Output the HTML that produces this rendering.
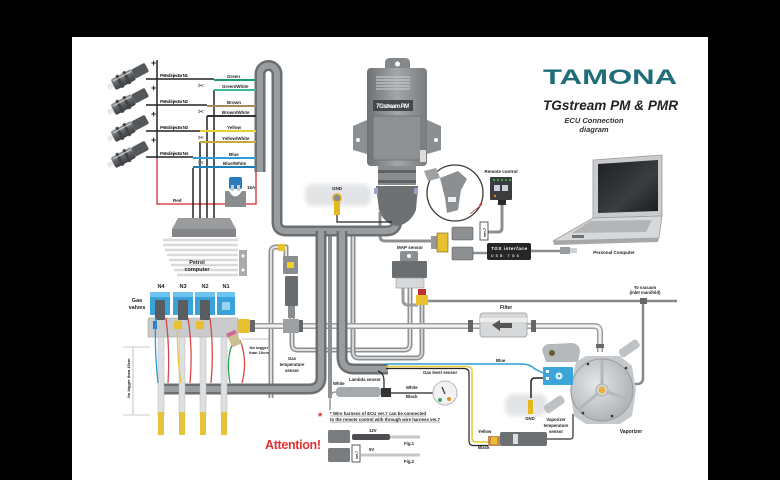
<!DOCTYPE html>
<html><head><meta charset="utf-8"><style>
html,body{margin:0;padding:0;background:#000;}
svg{display:block}
text{font-family:"Liberation Sans",sans-serif;font-weight:bold;fill:#222;}
</style></head><body>
<svg width="780" height="480" viewBox="0 0 780 480" xmlns="http://www.w3.org/2000/svg">
<defs>
<linearGradient id="ecu" x1="0" x2="1" y1="0" y2="0">
<stop offset="0" stop-color="#6e7174"/><stop offset="0.5" stop-color="#a4a7aa"/><stop offset="1" stop-color="#7a7d80"/>
</linearGradient>
<linearGradient id="scr" x1="0" x2="1" y1="0" y2="1">
<stop offset="0" stop-color="#1e2023"/><stop offset="0.6" stop-color="#3a3d41"/><stop offset="1" stop-color="#1a1c1e"/>
</linearGradient>
<linearGradient id="inj" x1="0" x2="0" y1="0" y2="1">
<stop offset="0" stop-color="#9a9da0"/><stop offset="0.5" stop-color="#5d6063"/><stop offset="1" stop-color="#3e4043"/>
</linearGradient>
<radialGradient id="vap" cx="0.4" cy="0.4" r="0.7">
<stop offset="0" stop-color="#e4e6e8"/><stop offset="1" stop-color="#a9acaf"/>
</radialGradient>
<filter id="bl"><feGaussianBlur stdDeviation="2"/></filter>
</defs>
<rect width="780" height="480" fill="#000"/>
<rect x="72" y="37" width="636" height="443" fill="#fff"/>

<!-- clouds -->
<rect x="305" y="184" width="66" height="22" rx="8" fill="#e2e4e6" filter="url(#bl)"/>
<rect x="505" y="394" width="42" height="22" rx="8" fill="#e2e4e6" filter="url(#bl)"/>

<!-- thin gas pipes (double line) -->
<g fill="none" stroke-linejoin="round">
<path d="M271,398 V252 Q271,247 276,247 H286 V256" stroke="#8d9093" stroke-width="5"/>
<path d="M271,398 V252 Q271,247 276,247 H286 V256" stroke="#e0e0e0" stroke-width="2"/>
<path d="M292,312 V344 Q292,350 298,350 H404 Q410,350 410,344 V283" stroke="#8d9093" stroke-width="5"/>
<path d="M292,312 V344 Q292,350 298,350 H404 Q410,350 410,344 V283" stroke="#e0e0e0" stroke-width="2"/>
<path d="M353,231 V352 Q353,358 359,358 H416 Q422,358 422,352 V304" stroke="#8d9093" stroke-width="5"/>
<path d="M353,231 V352 Q353,358 359,358 H416 Q422,358 422,352 V304" stroke="#cfd1d3" stroke-width="2"/>
<path d="M403,283 V300 Q403,305 408,305 H418" stroke="#9a9da0" stroke-width="3"/>
<path d="M238,326 H480 M527,326 H594 Q600,326 600,332 V352" stroke="#9b9ea1" stroke-width="6"/>
<path d="M238,326 H480 M527,326 H594 Q600,326 600,332 V352" stroke="#f2f2f2" stroke-width="3"/>
<path d="M422,301 H677 M643,301 V378 Q643,384 637,384 H628" stroke="#86898c" stroke-width="2.5"/>
<path d="M330,231 V398" stroke="#8d9093" stroke-width="4"/>
<path d="M380,212 V236 Q380,241 385,241 H432" stroke="#8d9093" stroke-width="3"/>
<path d="M502,202 V228 Q502,232 498,232 H488" stroke="#8d9093" stroke-width="3"/>
<path d="M473,253 H487 M531,251 H560" stroke="#8d9093" stroke-width="2.5"/>
</g>
<!-- gas pipe clamps -->
<g fill="#666">
<rect x="250" y="320" width="5" height="12"/><rect x="283" y="320" width="5" height="12"/><rect x="298" y="320" width="5" height="12"/>
<rect x="468" y="320" width="5" height="12"/><rect x="531" y="320" width="5" height="12"/><rect x="596" y="344" width="8" height="4"/>
<rect x="640" y="298" width="7" height="6"/>
</g>

<!-- thick pipes -->
<g fill="none" stroke-linejoin="round">
<path d="M260,172 V74 A8.5,8.5 0 0 1 277,74 V222 Q277,231 286,231 H386 Q397,231 397,220 V212" stroke="#6c6f72" stroke-width="11"/>
<path d="M260,172 V74 A8.5,8.5 0 0 1 277,74 V222 Q277,231 286,231 H386 Q397,231 397,220 V212" stroke="#9a9da0" stroke-width="6"/>
<path d="M321,231 V377 Q321,389 309,389 H163" stroke="#6c6f72" stroke-width="11"/>
<path d="M321,231 V377 Q321,389 309,389 H163" stroke="#9a9da0" stroke-width="6"/>
<path d="M342,231 V357 Q342,369 354,369 H388" stroke="#6c6f72" stroke-width="11"/>
<path d="M342,231 V357 Q342,369 354,369 H388" stroke="#9a9da0" stroke-width="6"/>
</g>

<!-- petrol injectors -->
<g>
<g transform="translate(130,76) rotate(-28)"><rect x="-25" y="-2.5" width="7" height="5" fill="#e6e8ea"/><rect x="-19" y="-6" width="23" height="12" rx="2" fill="url(#inj)"/><rect x="-13" y="-7" width="3" height="14" fill="#444"/><rect x="-5" y="-7" width="3" height="14" fill="#444"/><rect x="4" y="-5" width="15" height="10" rx="1.5" fill="#55585b"/><line x1="-17" y1="-3.5" x2="3" y2="-3.5" stroke="#d6d9dc"/></g>
<g transform="translate(130,101) rotate(-28)"><rect x="-25" y="-2.5" width="7" height="5" fill="#e6e8ea"/><rect x="-19" y="-6" width="23" height="12" rx="2" fill="url(#inj)"/><rect x="-13" y="-7" width="3" height="14" fill="#444"/><rect x="-5" y="-7" width="3" height="14" fill="#444"/><rect x="4" y="-5" width="15" height="10" rx="1.5" fill="#55585b"/><line x1="-17" y1="-3.5" x2="3" y2="-3.5" stroke="#d6d9dc"/></g>
<g transform="translate(130,128) rotate(-28)"><rect x="-25" y="-2.5" width="7" height="5" fill="#e6e8ea"/><rect x="-19" y="-6" width="23" height="12" rx="2" fill="url(#inj)"/><rect x="-13" y="-7" width="3" height="14" fill="#444"/><rect x="-5" y="-7" width="3" height="14" fill="#444"/><rect x="4" y="-5" width="15" height="10" rx="1.5" fill="#55585b"/><line x1="-17" y1="-3.5" x2="3" y2="-3.5" stroke="#d6d9dc"/></g>
<g transform="translate(130,154) rotate(-28)"><rect x="-25" y="-2.5" width="7" height="5" fill="#e6e8ea"/><rect x="-19" y="-6" width="23" height="12" rx="2" fill="url(#inj)"/><rect x="-13" y="-7" width="3" height="14" fill="#444"/><rect x="-5" y="-7" width="3" height="14" fill="#444"/><rect x="4" y="-5" width="15" height="10" rx="1.5" fill="#55585b"/><line x1="-17" y1="-3.5" x2="3" y2="-3.5" stroke="#d6d9dc"/></g>
</g>
<g font-size="9"><text x="151" y="66">+</text><text x="151" y="91">+</text><text x="151" y="117">+</text><text x="151" y="143">+</text></g>

<!-- wiring -->
<g fill="none" stroke-width="1.5">
<path d="M157,60 V158" stroke="#222"/>
<path d="M157,158 V204 H256 V172" stroke="#d84848"/>
<path d="M146,79 H214 M146,105 H207 M146,131 H200 M146,157 H193" stroke="#222"/>
<path d="M214,90 V222 M207,116 V222 M200,142 V222 M193,168 V222" stroke="#222"/>
<path d="M214,80 H256" stroke="#1f9a6c" stroke-width="2"/>
<path d="M214,90 H256" stroke="#3bb89a" stroke-width="2"/>
<path d="M207,106 H256" stroke="#a88860" stroke-width="2"/>
<path d="M207,116 H256" stroke="#333" stroke-width="2"/>
<path d="M200,131 H256" stroke="#e8d030" stroke-width="2"/>
<path d="M200,142 H256" stroke="#c8a838" stroke-width="2"/>
<path d="M193,158 H256" stroke="#2aa0d6" stroke-width="2"/>
<path d="M193,167 H256" stroke="#1a80b8" stroke-width="2"/>
</g>
<g font-size="7" style="font-family:'DejaVu Sans',sans-serif"><text x="198" y="88" style="fill:#777">✂</text><text x="198" y="114" style="fill:#777">✂</text><text x="198" y="140" style="fill:#777">✂</text><text x="198" y="165" style="fill:#777">✂</text></g>
<g font-size="4.5">
<text x="160" y="77" textLength="28">Petrol injector N1</text>
<text x="160" y="103" textLength="28">Petrol injector N2</text>
<text x="160" y="129" textLength="28">Petrol injector N3</text>
<text x="160" y="155" textLength="28">Petrol injector N4</text>
<text x="227" y="78">Green</text><text x="222" y="88">Green/White</text>
<text x="227" y="104">Brown</text><text x="222" y="114">Brown/White</text>
<text x="227" y="129">Yellow</text><text x="222" y="140">Yellow/White</text>
<text x="229" y="156">Blue</text><text x="223" y="165">Blue/White</text>
<text x="173" y="202">Red</text><text x="247" y="189">15A</text>
</g>
<!-- fuse -->
<rect x="229" y="177" width="13" height="12" rx="2" fill="#2a7ac0"/>
<rect x="231" y="185" width="3" height="6" fill="#ccc"/><rect x="237" y="185" width="3" height="6" fill="#ccc"/>
<path d="M225,191 H246 V207 H225 Z" fill="#8a8d90"/>
<path d="M229,191 Q235,202 242,191" fill="#fff"/>

<!-- petrol computer -->
<g>
<g stroke="#d8d9da" stroke-width="2.5">
<line x1="163" y1="240" x2="238" y2="240"/><line x1="163" y1="245" x2="238" y2="245"/><line x1="165" y1="250" x2="238" y2="250"/><line x1="167" y1="255" x2="238" y2="255"/><line x1="169" y1="260" x2="238" y2="260"/><line x1="171" y1="265" x2="238" y2="265"/><line x1="174" y1="270" x2="238" y2="270"/><line x1="177" y1="275" x2="238" y2="275"/>
</g>
<polygon points="178,218 230,218 236,229 172,229" fill="#9a9c9e"/>
<rect x="172" y="229" width="64" height="8" fill="#838588"/>
<rect x="239" y="250" width="8" height="26" fill="#a9abad"/>
<circle cx="243" cy="256" r="1.5" fill="#fff"/><circle cx="243" cy="270" r="1.5" fill="#fff"/>
<text x="197" y="264" font-size="5.5" text-anchor="middle">Petrol</text>
<text x="197" y="271" font-size="5.5" text-anchor="middle">computer</text>
</g>

<!-- ECU -->
<g>
<path d="M385,72 V63 Q385,58 390,58 H405 Q410,58 410,63 V72 Z" fill="#85888b"/>
<circle cx="397.5" cy="64" r="2.5" fill="#fff"/>
<polygon points="353,126 367,120 367,154 353,150" fill="#8c8f92"/>
<polygon points="441,126 427,120 427,154 441,150" fill="#8c8f92"/>
<circle cx="358" cy="140" r="2" fill="#fff"/><circle cx="436" cy="140" r="2" fill="#fff"/>
<rect x="367" y="68" width="60" height="98" rx="4" fill="url(#ecu)"/>
<g stroke="#c3c6c9" stroke-width="1.3"><line x1="376" y1="77" x2="410" y2="77"/><line x1="376" y1="80" x2="410" y2="80"/><line x1="376" y1="83" x2="410" y2="83"/><line x1="376" y1="86" x2="410" y2="86"/><line x1="376" y1="89" x2="410" y2="89"/></g>
<rect x="373" y="100" width="40" height="11" fill="#45484b"/>
<text x="376" y="108" font-size="6" font-style="italic" style="fill:#fff" textLength="33">TGstream PM</text>
<rect x="373" y="116" width="48" height="44" fill="#8e9194" stroke="#6a6d70" stroke-width="0.8"/>
<rect x="420" y="150" width="6" height="12" fill="#dcdcdc"/>
<rect x="378" y="166" width="38" height="19" fill="#8a8d90"/>
<rect x="378" y="170" width="38" height="3" fill="#5f6265"/><rect x="378" y="180" width="38" height="3" fill="#5f6265"/>
<path d="M376,186 H418 L416,210 Q410,224 397,226 Q384,224 379,210 Z" fill="#6e7174"/>
<rect x="374" y="188" width="4" height="6" fill="#9aa4c8"/><rect x="414" y="188" width="4" height="6" fill="#9aa4c8"/>
</g>
<!-- GND sensor -->
<path d="M337,214 V222 H392" fill="none" stroke="#222" stroke-width="1.2"/>
<circle cx="337" cy="198" r="4" fill="#8a8d90" stroke="#e0b020" stroke-width="1.5"/>
<rect x="334" y="201" width="6" height="14" fill="#e6b820"/>
<text x="337" y="190" font-size="4.5" text-anchor="middle">GND</text>

<!-- magnifier -->
<circle cx="455" cy="193" r="28" fill="#fff" stroke="#3a3a3a" stroke-width="1.3"/>
<path d="M440,178 L458,171 L467,179 L461,190 L458,210 L447,213 L445,198 Z" fill="#8c8f92"/>
<rect x="448" y="197" width="8" height="5" fill="#eee"/>
<polygon points="424,171 436,168 440,178 428,181" fill="#9ea1a4"/>
<path d="M470,214 L480,206" stroke="#c03030" stroke-width="0.8"/>
<text x="479" y="209" font-size="8" style="fill:#d83030">*</text>

<!-- remote control -->
<text x="501" y="173" font-size="4.5" text-anchor="middle">Remote control</text>
<rect x="490" y="177" width="22" height="23" rx="1" fill="#3a3c3e"/>
<g fill="#4ec04e"><circle cx="494" cy="180" r="1"/><circle cx="498" cy="180" r="1"/><circle cx="502" cy="180" r="1"/><circle cx="506" cy="180" r="1"/><circle cx="510" cy="180" r="1"/></g>
<rect x="494" y="185" width="6" height="6" fill="#ccd"/><rect x="502" y="185" width="6" height="6" fill="#ccd"/>
<circle cx="495" cy="196" r="1.2" fill="#e0902a"/>
<rect x="498" y="200" width="8" height="5" fill="#2a2a2a"/>

<!-- connectors / interface -->
<rect x="431" y="236" width="6" height="13" fill="#999"/>
<rect x="437" y="233" width="11" height="19" fill="#e8c030" stroke="#7a5a10" stroke-width="0.6"/>
<rect x="452" y="227" width="21" height="13" rx="1.5" fill="#8d9093" stroke="#555" stroke-width="0.6"/>
<rect x="452" y="247" width="21" height="13" rx="1.5" fill="#8d9093" stroke="#555" stroke-width="0.6"/>
<rect x="480" y="222" width="8" height="18" fill="#fff" stroke="#333" stroke-width="0.8"/>
<text x="0" y="0" font-size="4" transform="translate(486,237) rotate(-90)">ver.7</text>
<rect x="487" y="243" width="44" height="17" rx="2" fill="#262626"/>
<text x="491" y="250" font-size="4.5" font-style="italic" style="fill:#fff" textLength="36">TGS interface</text>
<text x="491" y="257" font-size="3.5" style="fill:#ddd" textLength="28">USB   TGS</text>
<rect x="560" y="247" width="10" height="7" fill="#9a9da0"/><rect x="570" y="248" width="7" height="5" fill="#cfd1d3"/>

<!-- laptop -->
<polygon points="593,160 662,155 662,216 593,218" fill="#c9cbcd" stroke="#999" stroke-width="0.8"/>
<polygon points="598,164 658,160 658,211 598,213" fill="url(#scr)"/>
<polygon points="593,218 662,216 659,238 553,241" fill="#d6d8da" stroke="#9a9c9e" stroke-width="0.8"/>
<polygon points="553,241 659,238 658,242 554,245" fill="#a6a8aa"/>
<polygon points="590,221 652,220 646,232 572,233" fill="#b3b5b7"/>
<rect x="572" y="235" width="12" height="3" fill="#707274"/>
<text x="614" y="254" font-size="4.5" text-anchor="middle">Personal Computer</text>

<!-- title -->
<text x="543" y="84" font-size="21" style="fill:#1f6d79" textLength="134" lengthAdjust="spacingAndGlyphs">TAMONA</text>
<text x="543" y="110" font-size="14" font-style="italic" style="fill:#222" textLength="135" lengthAdjust="spacingAndGlyphs">TGstream PM &amp; PMR</text>
<text x="594" y="123" font-size="7.5" font-style="italic" text-anchor="middle" style="fill:#333">ECU Connection</text>
<text x="594" y="132" font-size="7.5" font-style="italic" text-anchor="middle" style="fill:#333">diagram</text>

<!-- MAP sensor -->
<text x="410" y="249" font-size="4.5" text-anchor="middle">MAP sensor</text>
<rect x="400" y="251" width="18" height="11" rx="2" fill="#8c8f92"/><circle cx="409" cy="256" r="2" fill="#fff"/>
<rect x="392" y="261" width="35" height="17" rx="1" fill="#6b6e71"/>
<rect x="396" y="278" width="28" height="10" fill="#d6d8da" stroke="#999" stroke-width="0.6"/>
<rect x="418" y="289" width="8" height="6" fill="#c03030"/>
<rect x="416" y="295" width="12" height="10" fill="#e8c030"/>

<!-- gas temp sensor -->
<rect x="278" y="244" width="7" height="7" fill="#e8c030"/>
<rect x="283" y="256" width="15" height="18" rx="1" fill="#8a8d90"/>
<rect x="287" y="262" width="7" height="6" fill="#f0d020"/>
<rect x="285" y="276" width="13" height="30" rx="1" fill="#6a6d70"/>
<rect x="288" y="306" width="7" height="12" fill="#8a8d90"/>
<rect x="283" y="319" width="16" height="14" fill="#9da0a3"/>
<g font-size="4.3" text-anchor="middle"><text x="292" y="360">Gas</text><text x="292" y="366">temperature</text><text x="292" y="372">sensor</text></g>

<!-- gas valves -->
<rect x="238" y="319" width="12" height="14" rx="2" fill="#e8c030"/>
<rect x="148" y="318" width="90" height="19" fill="#c9cbcd" stroke="#aaa" stroke-width="0.6"/>
<g>
<rect x="150" y="292" width="20" height="23" fill="#3aa2da"/><rect x="150" y="292" width="20" height="5" fill="#6cc4ee"/>
<rect x="173" y="292" width="20" height="23" fill="#3aa2da"/><rect x="173" y="292" width="20" height="5" fill="#6cc4ee"/>
<rect x="195" y="292" width="20" height="23" fill="#3aa2da"/><rect x="195" y="292" width="20" height="5" fill="#6cc4ee"/>
<rect x="217" y="292" width="18" height="23" fill="#3aa2da"/><rect x="217" y="292" width="18" height="5" fill="#6cc4ee"/>
<rect x="155" y="300" width="10" height="20" rx="1" fill="#5a5d60"/>
<rect x="178" y="300" width="10" height="20" rx="1" fill="#5a5d60"/>
<rect x="200" y="300" width="10" height="20" rx="1" fill="#5a5d60"/>
<rect x="222" y="302" width="8" height="8" fill="#9ad2f0"/>
<rect x="174" y="321" width="8" height="8" fill="#e8c030"/><rect x="196" y="321" width="8" height="8" fill="#e8c030"/><rect x="153" y="321" width="4" height="8" fill="#2a7ac0"/>
</g>
<g font-size="5.5" text-anchor="middle"><text x="161" y="288">N4</text><text x="183" y="288">N3</text><text x="205" y="288">N2</text><text x="226" y="288">N1</text></g>
<text x="137" y="302" font-size="5.5" text-anchor="middle">Gas</text>
<text x="137" y="309" font-size="5.5" text-anchor="middle">valves</text>
<!-- nozzles -->
<g>
<rect x="158" y="337" width="6" height="78" fill="#dedfe0" stroke="#b5b7b9" stroke-width="0.5"/>
<rect x="179" y="337" width="6" height="78" fill="#dedfe0" stroke="#b5b7b9" stroke-width="0.5"/>
<rect x="200" y="337" width="6" height="78" fill="#dedfe0" stroke="#b5b7b9" stroke-width="0.5"/>
<rect x="221" y="337" width="6" height="78" fill="#dedfe0" stroke="#b5b7b9" stroke-width="0.5"/>
<rect x="158" y="412" width="6" height="23" fill="#e6c43a"/><rect x="179" y="412" width="6" height="23" fill="#e6c43a"/><rect x="200" y="412" width="6" height="23" fill="#e6c43a"/><rect x="221" y="412" width="6" height="23" fill="#e6c43a"/>
</g>
<g fill="none" stroke-width="1.3">
<path d="M156,318 Q154,345 158,383" stroke="#2a9ad6"/>
<path d="M166,318 Q170,350 168,383" stroke="#d84848"/>
<path d="M178,320 Q176,350 181,383" stroke="#e8c830"/>
<path d="M188,318 Q193,350 190,383" stroke="#d84848"/>
<path d="M210,318 Q214,350 211,383" stroke="#d84848"/>
<path d="M232,345 Q226,360 230,383" stroke="#2aa050"/>
<path d="M240,340 Q248,360 242,383" stroke="#d84848"/>
</g>
<rect x="229" y="332" width="10" height="14" fill="#c8c090" transform="rotate(-25 234 339)"/>
<rect x="229" y="331" width="10" height="4" fill="#d06a9a" transform="rotate(-25 234 339)"/>
<g font-size="4" text-anchor="middle"><text x="259" y="349">No bigger</text><text x="259" y="354">than 10cm</text></g>
<path d="M270,339 H242" stroke="#888" stroke-width="0.6"/>
<!-- dimension -->
<g stroke="#999" stroke-width="0.6"><line x1="133" y1="347" x2="133" y2="415"/><line x1="123" y1="347" x2="150" y2="347"/><line x1="123" y1="415" x2="150" y2="415"/></g>
<text font-size="4" transform="translate(130,398) rotate(-90)">No bigger than 15cm</text>

<!-- lambda & wires -->
<g fill="none">
<path d="M386,364 H522 Q530,364 535,369 L543,373" stroke="#2aa0d6" stroke-width="1.5"/>
<path d="M386,366.5 H467 Q472,366.5 472,371 V438 Q472,442 476,442 H489" stroke="#e8c830" stroke-width="1.5"/>
<path d="M386,368.5 H464 Q469,368.5 469,373 V441 Q469,445.5 473,445.5 H489" stroke="#222" stroke-width="1.2"/>
<path d="M378,371 Q384,373 384,381 V388 Q384,393 390,393 H436" stroke="#222" stroke-width="1.2"/>
<path d="M336,392 Q330,392 330,400 V410" stroke="#999" stroke-width="1.5"/>
<path d="M547,439 H570 Q573,439 573,436 V414" stroke="#555" stroke-width="1.5"/>
<path d="M545,378 H535 Q531,378 531,382 V398" stroke="#222" stroke-width="1.5"/>
</g>
<rect x="336" y="387" width="45" height="10" rx="4" fill="#a6a9ac"/>
<rect x="381" y="388" width="10" height="9" fill="#333"/>
<circle cx="445" cy="393" r="12" fill="#f2f2f2" stroke="#b8b8b8"/>
<line x1="445" y1="394" x2="442" y2="387" stroke="#333" stroke-width="1.2"/>
<circle cx="440" cy="400" r="2" fill="#3aa860"/><circle cx="449" cy="399" r="2" fill="#e08a30"/>
<g font-size="4.3">
<text x="349" y="381">Lambda sensor</text>
<text x="333" y="385">White</text>
<text x="406" y="389">White</text><text x="406" y="398">Black</text>
<text x="423" y="374">Gas level sensor</text>
<text x="496" y="362">Blue</text>
<text x="478" y="433">Yellow</text><text x="478" y="449">Black</text>
<text x="500" y="309" font-size="5">Filter</text>
<text x="645" y="289" text-anchor="middle">To vacuum</text>
<text x="645" y="294" text-anchor="middle">(inlet manifold)</text>
<text x="530" y="420" text-anchor="middle">GND</text>
<text x="556" y="421" text-anchor="middle">Vaporizer</text>
<text x="556" y="427" text-anchor="middle">temperature</text>
<text x="556" y="433" text-anchor="middle">sensor</text>
<text x="631" y="433" font-size="5" text-anchor="middle">Vaporizer</text>
</g>

<!-- filter -->
<rect x="480" y="313" width="47" height="24" rx="3" fill="#d6d8da" stroke="#a8aaac"/>
<rect x="480" y="318" width="47" height="4" fill="#eceeee"/>
<polygon points="492,325 500,320 500,323 512,323 512,328 500,328 500,331" fill="#555"/>

<!-- vaporizer -->
<rect x="618" y="344" width="22" height="9" rx="3" fill="#bfc2c5" transform="rotate(-35 629 348)"/>
<rect x="543" y="400" width="22" height="9" rx="3" fill="#bfc2c5" transform="rotate(-35 554 404)"/>
<path d="M542,350 Q544,343 552,344 L572,343 Q580,344 580,352 L578,362 L546,362 Z" fill="#b6b9bc"/>
<circle cx="552" cy="353" r="3" fill="#6a5a30"/>
<path d="M576,362 L586,356 L620,356 L632,366 L636,390 L632,416 L620,424 L586,424 L574,416 L570,390 Z" fill="#c6c9cc"/>
<circle cx="602" cy="390" r="31" fill="url(#vap)" stroke="#9a9da0"/>
<g stroke="#b5b8bb" stroke-width="3"><line x1="602" y1="390" x2="602" y2="360"/><line x1="602" y1="390" x2="630" y2="400"/><line x1="602" y1="390" x2="578" y2="410"/></g>
<circle cx="602" cy="390" r="6" fill="#d4d6d8" stroke="#aaa"/>
<circle cx="602" cy="390" r="3.5" fill="#e8b040"/>
<circle cx="588" cy="364" r="1.3" fill="#333"/><circle cx="626" cy="368" r="1.3" fill="#333"/><circle cx="612" cy="416" r="1.3" fill="#333"/><circle cx="583" cy="413" r="1.3" fill="#333"/>
<rect x="543" y="367" width="30" height="18" rx="1" fill="#3aa5d8"/>
<circle cx="559" cy="376" r="3.5" fill="#e6f2fa"/><circle cx="559" cy="376" r="1.3" fill="#3aa5d8"/>
<rect x="546" y="370" width="3" height="3" fill="#fff"/><rect x="546" y="377" width="3" height="3" fill="#fff"/>
<!-- GND 2 -->
<rect x="528" y="400" width="5" height="14" fill="#e6b820"/>
<!-- vapor temp connector -->
<rect x="488" y="436" width="12" height="10" fill="#c88a50"/>
<rect x="491" y="437" width="6" height="7" fill="#e8c030"/>
<rect x="500" y="432" width="47" height="14" rx="2" fill="#6d7073"/>
<rect x="513" y="434" width="5" height="10" fill="#ddd"/>

<!-- bottom note -->
<text x="318" y="420" font-size="11" style="fill:#d83030">*</text>
<g font-size="4.3">
<text x="330" y="415" textLength="96">* Wire harness of ECU ver.7 can be connected</text>
<text x="330" y="421" textLength="110">to the remote control with through wire harness ver.7</text>
</g>
<line x1="330" y1="416" x2="426" y2="416" stroke="#333" stroke-width="0.4"/>
<line x1="330" y1="422" x2="440" y2="422" stroke="#333" stroke-width="0.4"/>
<text x="265" y="449" font-size="12.5" style="fill:#e03232" textLength="56">Attention!</text>
<rect x="328" y="430" width="22" height="13" rx="1.5" fill="#7a7d80"/>
<rect x="328" y="448" width="22" height="14" rx="1.5" fill="#7a7d80"/>
<rect x="352" y="434" width="38" height="6" rx="2" fill="#4d4f52"/>
<line x1="390" y1="437" x2="420" y2="437" stroke="#c4c6c8" stroke-width="3"/>
<rect x="352" y="445" width="8" height="17" fill="#fff" stroke="#333" stroke-width="0.8"/>
<text font-size="3.5" transform="translate(358,459) rotate(-90)">ver.7</text>
<line x1="361" y1="455" x2="420" y2="455" stroke="#c4c6c8" stroke-width="3"/>
<g font-size="4.3"><text x="369" y="432">12V</text><text x="369" y="451">5V</text><text x="404" y="445">Fig.1</text><text x="404" y="463">Fig.2</text></g>
</svg>
</body></html>
